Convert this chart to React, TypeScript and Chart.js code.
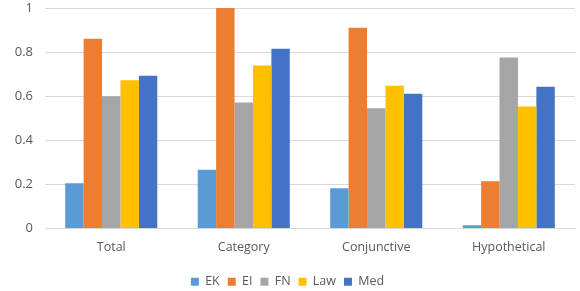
import React, { useEffect, useRef } from "react";
import { Chart, registerables } from "chart.js";

Chart.register(...registerables);

const categories = ["Total", "Category", "Conjunctive", "Hypothetical"];
const seriesNames = ["EK", "EI", "FN", "Law", "Med"];
const ekValues = [0.205, 0.267, 0.182, 0.015];
const eiValues = [0.861, 1.0, 0.91, 0.214];
const fnValues = [0.6, 0.571, 0.545, 0.776];
const lawValues = [0.672, 0.739, 0.647, 0.553];
const medValues = [0.693, 0.815, 0.611, 0.643];
const colors = ["#5B9BD5", "#ED7D31", "#A5A5A5", "#FFC000", "#4472C4"];

export default function App() {
  const ref = useRef<HTMLCanvasElement>(null);
  useEffect(() => {
    document.body.style.margin = "0";
    const ctx = ref.current!;
    const all = [ekValues, eiValues, fnValues, lawValues, medValues];
    const chart = new Chart(ctx, {
      type: "bar",
      data: {
        labels: categories,
        datasets: seriesNames.map((n, i) => ({
          label: n,
          data: all[i],
          backgroundColor: colors[i],
          borderWidth: 0,
          barPercentage: 1,
          categoryPercentage: 0.695,
        })),
      },
      options: {
        animation: false,
        responsive: false,
        maintainAspectRatio: false,
        layout: { padding: { left: 0, right: 5, top: 8, bottom: -7 } },
        plugins: {
          legend: {
            position: "bottom",
            labels: {
              boxWidth: 8,
              boxHeight: 8,
              padding: 8,
              color: "#595959",
              font: { family: "'Open Sans', sans-serif", size: 12.5 },
            },
          },
          tooltip: { enabled: false },
        },
        scales: {
          x: {
            grid: { display: false },
            border: { display: false },
            afterFit: (s: any) => {
              s.height = s.height + 10;
            },
            ticks: {
              color: "#595959",
              font: { family: "'Open Sans', sans-serif", size: 12.5 },
              padding: 3,
            },
          },
          y: {
            min: 0,
            max: 1,
            afterFit: (s: any) => {
              s.width = 45;
              s.paddingTop = 0;
              s.paddingBottom = 0;
            },
            grid: { color: "#D9D9D9", drawTicks: false },
            border: { display: false },
            ticks: {
              stepSize: 0.2,
              padding: 12,
              color: "#595959",
              font: { family: "'Open Sans', sans-serif", size: 13 },
              callback: (v: any) => String(Math.round(Number(v) * 10) / 10),
            },
          },
        },
      },
    });
    return () => chart.destroy();
  }, []);
  return (
    <div style={{ width: 580, height: 291 }}>
      <canvas ref={ref} width={580} height={291} />
    </div>
  );
}
